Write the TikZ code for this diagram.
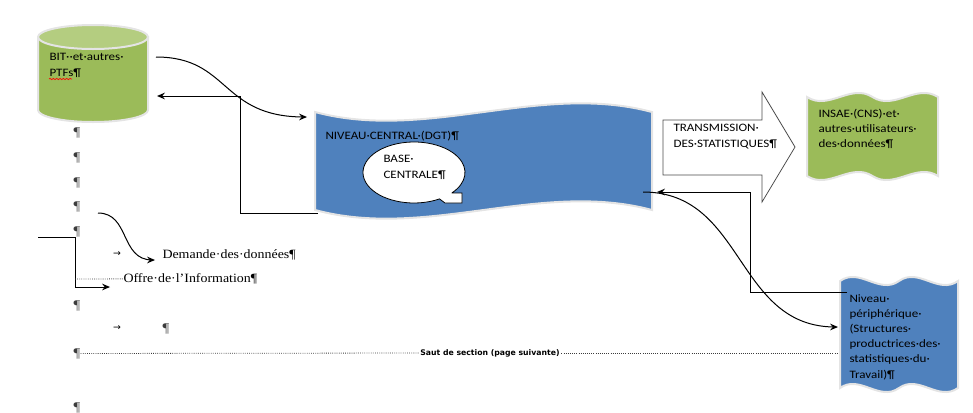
\documentclass[tikz,border=0pt]{standalone}
\usepackage{fontspec}
\setmainfont{Liberation Serif}[FakeStretch=1.1]
\newfontfamily\calibfont{Carlito}[FakeStretch=1.15]
\newfontfamily\dejavufont{DejaVu Sans}
\usetikzlibrary{decorations.pathmorphing}

\definecolor{shapegreen}{RGB}{155,187,89}
\definecolor{shapegreentop}{RGB}{180,205,128}
\definecolor{shapeblue}{RGB}{79,129,189}
\definecolor{shapeedge}{RGB}{228,228,228}
\definecolor{markgray}{RGB}{60,60,60}

\tikzset{every picture/.style={line width=0.75pt}}
\tikzset{
  shapetext/.style={anchor=base west, align=left, inner sep=0pt, font=\calibfont\fontsize{8.5}{11.4}\selectfont},
  seriftext/.style={anchor=base west, inner sep=0pt, font=\fontsize{9.5}{11}\selectfont},
  pilcrow/.style={anchor=base west, inner sep=0pt, text=markgray, font=\fontsize{10}{11}\selectfont},
  tabmark/.style={inner sep=0pt, font=\dejavufont\fontsize{7}{8}\selectfont},
  shapeborder/.style={draw=shapeedge, line width=1.5},
  breakline/.style={densely dotted, draw=markgray, line width=0.6},
}

\begin{document}
\begin{tikzpicture}[x=0.75pt,y=0.75pt,yscale=-1,xscale=1]
	\useasboundingbox (0,0) rectangle (973,412);

	%Shape: Can
	\draw [shapeborder, fill=shapegreen] (38,37) -- (38,110) arc [start angle=180, end angle=0, x radius=55, y radius=12] -- (148,37) -- cycle ;
	\draw [shapeborder, fill=shapegreentop] (93,37) ellipse [x radius=55, y radius=12] ;
	%Shape: Wave
	\draw [shapeborder, fill=shapeblue] (315,112) .. controls (427,142) and (540,82) .. (652,112) -- (652,210) .. controls (540,180) and (427,240) .. (315,210) -- cycle ;
	%Shape: Oval Callout
	\draw [fill=white, line width=0.6] (452,193) -- (462,193) -- (462,203) -- (445,203) -- (439.5,198.9) arc [start angle=60, end angle=401.8, x radius=51, y radius=30.5] -- cycle ;
	%Shape: Right Arrow
	\draw [draw=black!70, fill=white, line width=0.6] (663,120) -- (762,120) -- (762,92) -- (795,147) -- (762,202) -- (762,175) -- (663,175) -- cycle ;
	%Shape: Double Wave
	\draw [shapeborder, fill=shapegreen] (807,97) .. controls (828.8,111) and (850.7,83) .. (872.5,97) .. controls (894.3,111) and (916.2,83) .. (938,97) -- (938,176) .. controls (916.2,162) and (894.3,190) .. (872.5,176) .. controls (850.7,162) and (828.8,190) .. (807,176) -- cycle ;
	%Shape: Double Wave
	\draw [shapeborder, fill=shapeblue] (840,281) .. controls (859.7,267) and (879.3,295) .. (899,281) .. controls (918.7,267) and (938.3,295) .. (958,281) -- (958,388) .. controls (938.3,402) and (918.7,374) .. (899,388) .. controls (879.3,402) and (859.7,374) .. (840,388) -- cycle ;

	% Text Node
	\node [shapetext] (bit) at (49,76) {BIT··et·autres·\\PTFs¶};
	\draw [red, line width=0.5, decorate, decoration={snake, amplitude=0.5pt, segment length=2.5pt}] (49,79) -- (72,79) ;
	% Text Node
	\node [shapetext] (central) at (325,139) {NIVEAU·CENTRAL·(DGT)¶};
	% Text Node
	\node [shapetext] (base) at (383,178) {BASE·\\CENTRALE¶};
	% Text Node
	\node [shapetext] (transm) at (673,147) {TRANSMISSION·\\DES·STATISTIQUES¶};
	% Text Node
	\node [shapetext] (insae) at (818,147.5) {INSAE·(CNS)·et·\\autres·utilisateurs·\\des·données¶};
	% Text Node
	\node [shapetext] (periph) at (849,378) {Niveau·\\périphérique·\\(Structures·\\productrices·des·\\statistiques·du·\\Travail)¶};

	% Text Node
	\node [pilcrow] (pilA) at (73,136) {¶};
	\node [pilcrow] (pilB) at (73,161) {¶};
	\node [pilcrow] (pilC) at (73,186) {¶};
	\node [pilcrow] (pilD) at (73,210) {¶};
	\node [pilcrow] (pilE) at (73,235) {¶};
	\node [pilcrow] (pilF) at (73,309) {¶};
	\node [pilcrow] (pilG) at (73,357) {¶};
	\node [pilcrow] (pilH) at (73,411) {¶};
	\node [pilcrow] (pilI) at (162,332) {¶};
	% Text Node
	\node [tabmark] (tabA) at (117,254) {→};
	\node [tabmark] (tabB) at (117,328) {→};
	% Text Node
	\node [seriftext] (demande) at (162,258) {Demande·des·données¶};
	% Text Node
	\node [seriftext] (offre) at (123,282.5) {Offre·de·l’Information¶};
	% Text Node
	\node [inner sep=1pt, font=\dejavufont\bfseries\fontsize{5.8}{7}\selectfont] (saut) at (490,353) {Saut de section (page suivante)};

	% connector ends
	\coordinate (bitE) at (156,57);
	\coordinate (bitR) at (157,96);
	\coordinate (cenW) at (307,117);
	\coordinate (cenSW) at (318,213);
	\coordinate (cenE) at (643,192);
	\coordinate (cenR) at (657,192);
	\coordinate (perN) at (847,292);
	\coordinate (perW) at (838,327);
	\coordinate (markA) at (98,213);
	\coordinate (demW) at (155,260);
	\coordinate (leftA) at (38,237);
	\coordinate (leftB) at (110,287);
	\coordinate (breakE) at (838,353);

	%Curve Lines
	\draw [shorten >=2pt] (bitE) .. controls +(74,0) and +(-87,0) .. (cenW) ;
	\draw [shift={(cenW)}, rotate = 180] [fill=black][line width=0.08] [draw opacity=0] (8,-3.4) -- (0,0) -- (8,3.4) -- (5.3,0) -- cycle ;
	%Straight Lines
	\draw [shorten >=2pt] (cenSW) -- ++(-78,0) |- (bitR) ;
	\draw [shift={(bitR)}, rotate = 0] [fill=black][line width=0.08] [draw opacity=0] (8,-3.4) -- (0,0) -- (8,3.4) -- (5.3,0) -- cycle ;
	%Curve Lines
	\draw [shorten >=2pt] (cenE) .. controls +(102,0) and +(-103,0) .. (perW) ;
	\draw [shift={(perW)}, rotate = 180] [fill=black][line width=0.08] [draw opacity=0] (8,-3.4) -- (0,0) -- (8,3.4) -- (5.3,0) -- cycle ;
	%Straight Lines
	\draw [shorten >=2pt] (perN) -- ++(-97,0) |- (cenR) ;
	\draw [shift={(cenR)}, rotate = 0] [fill=black][line width=0.08] [draw opacity=0] (8,-3.4) -- (0,0) -- (8,3.4) -- (5.3,0) -- cycle ;
	%Curve Lines
	\draw [shorten >=2pt] (markA) .. controls +(32,0) and +(-35,0) .. (demW) ;
	\draw [shift={(demW)}, rotate = 180] [fill=black][line width=0.08] [draw opacity=0] (8,-3.4) -- (0,0) -- (8,3.4) -- (5.3,0) -- cycle ;
	%Straight Lines
	\draw [shorten >=2pt] (leftA) -- ++(37,0) |- (leftB) ;
	\draw [shift={(leftB)}, rotate = 180] [fill=black][line width=0.08] [draw opacity=0] (8,-3.4) -- (0,0) -- (8,3.4) -- (5.3,0) -- cycle ;
	%Dotted Lines
	\draw [breakline] (75,279) -- (offre.west) ;
	\draw [breakline] (pilG.east) -- (saut.west) ;
	\draw [breakline] (saut.east) -- (breakE) ;

\end{tikzpicture}
\end{document}
